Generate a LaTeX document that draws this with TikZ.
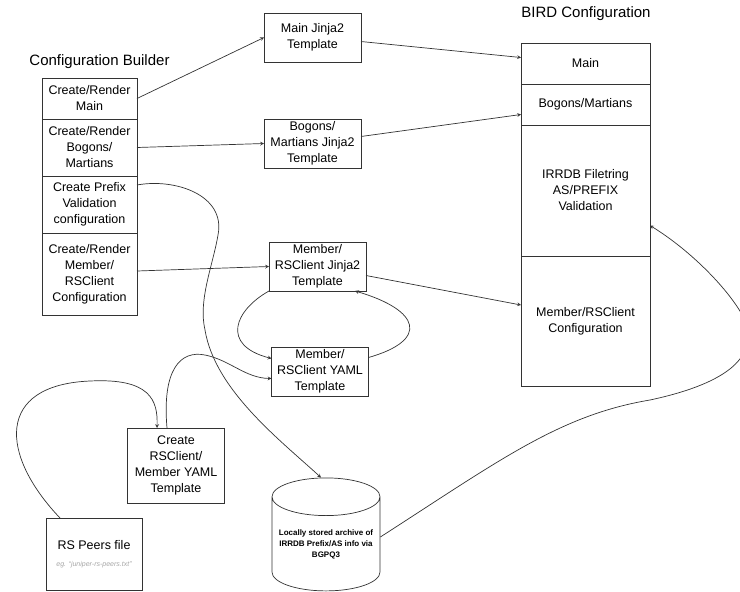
\documentclass[tikz,border=0pt]{standalone}
\usepackage{fontspec}
\setmainfont{Liberation Sans}
\usetikzlibrary{shapes.geometric}

\tikzset{
  box/.style={draw=black!80, line width=0.7pt, align=center, inner sep=1pt, outer sep=0pt,
    font=\fontsize{12.5}{16}\selectfont},
  tmpl/.style={box, minimum width=97pt, minimum height=49pt},
  cellb/.style={box, minimum width=95pt},
  celld/.style={box, minimum width=129pt},
  title/.style={font=\fontsize{15}{18}\selectfont},
  link/.style={->, draw=black!80, line width=0.7pt},
}

\begin{document}
\begin{tikzpicture}[x=1pt, y=-1pt, >=stealth]
    \useasboundingbox (0,0) rectangle (740,592);

    % configuration builder
    \node[title] (btitle) at (99.5,62) {Configuration Builder};
    \node[cellb, minimum height=41pt] (bmain) at (89.5,98.5) {Create/Render\\Main};
    \node[cellb, minimum height=57pt] (bbogons) at (89.5,147.5) {Create/Render\\Bogons/\\Martians};
    \node[cellb, minimum height=57pt] (bprefix) at (89.5,204.5) {Create Prefix\\Validation\\configuration};
    \node[cellb, minimum height=82pt] (bmember) at (89.5,274) {Create/Render\\Member/\\RSClient\\Configuration};

    % bird configuration
    \node[title] (dtitle) at (586,14) {BIRD Configuration};
    \node[celld, minimum height=41pt] (dmain) at (585.5,63.5) {Main};
    \node[celld, minimum height=41pt] (dbogons) at (585.5,104.5) {Bogons/Martians};
    \node[celld, minimum height=131pt] (dirrdb) at (585.5,190.5) {IRRDB Filetring\\AS/PREFIX\\Validation};
    \node[celld, minimum height=130pt] (dmember) at (585.5,321) {Member/RSClient\\Configuration};

    % templates and sources
    \node[tmpl] (tmain) at (312.5,37.5) {Main Jinja2\\Template};
    \node[tmpl] (tbogons) at (312.5,143.5) {Bogons/\\Martians Jinja2\\Template};
    \node[tmpl] (tmember) at (317.5,266.5) {Member/\\RSClient Jinja2\\Template};
    \node[tmpl] (tyaml) at (320,371.5) {Member/\\RSClient YAML\\Template};
    \node[tmpl, minimum height=75pt] (create) at (176,465.5) {Create\\RSClient/\\Member YAML\\Template};
    \node[tmpl, minimum width=96pt, minimum height=72pt] (peers) at (94,554)
        {RS Peers file\\[1pt]{\fontsize{7}{8}\selectfont\itshape\color{black!35}eg. “juniper-rs-peers.txt”}};
    \node[draw=black!80, line width=0.7pt, cylinder, shape border rotate=90, aspect=0.4,
        minimum width=108pt, minimum height=113pt, inner sep=0pt, align=center,
        font=\fontsize{8}{11}\selectfont\bfseries] (archive) at (326,544)
        {Locally stored archive of\\IRRDB Prefix/AS info via\\BGPQ3};

    % straight links
    \draw[link] (bmain.east) -- (tmain.west);
    \draw[link] ([yshift=-4pt]tmain.east) -- ([yshift=6pt]dmain.west);
    \draw[link] (bbogons.east) -- (tbogons.west);
    \draw[link] ([yshift=7pt]tbogons.east) -- ([yshift=-10pt]dbogons.west);
    \draw[link] ([yshift=3pt]bmember.east) -- (tmember.west);
    \draw[link] ([yshift=-9pt]tmember.east) -- ([yshift=16pt]dmember.west);

    % curved links
    \draw[link] ([yshift=-9pt]bprefix.north east) .. controls (175,178) and (226,195) .. (218,235)
        .. controls (213,265) and (198,300) .. (205,330)
        .. controls (215,390) and (280,440) .. ([xshift=-5pt]archive.north);
    \draw[link] (tmember.south west) .. controls (235,310) and (220,345) .. ([yshift=13pt]tyaml.west);
    \draw[link] ([yshift=14pt]tyaml.east) .. controls (430,340) and (420,310) .. ([xshift=-11pt]tmember.south east);
    \draw[link] ([xshift=-9pt]create.north) .. controls (162,370) and (180,350) .. (205,355)
        .. controls (230,360) and (245,378) .. ([yshift=-7pt]tyaml.west);
    \draw[link] ([xshift=14pt]peers.north west) .. controls (0,455) and (-5,385) .. (90,381)
        .. controls (150,378) and (158,400) .. ([xshift=-19pt]create.north);
    \draw[link] ([yshift=7pt]archive.east) .. controls (500,460) and (560,415) .. (650,400)
        .. controls (720,385) and (760,360) .. (745,320)
        .. controls (730,290) and (690,250) .. ([yshift=-35pt]dirrdb.east);
\end{tikzpicture}
\end{document}
